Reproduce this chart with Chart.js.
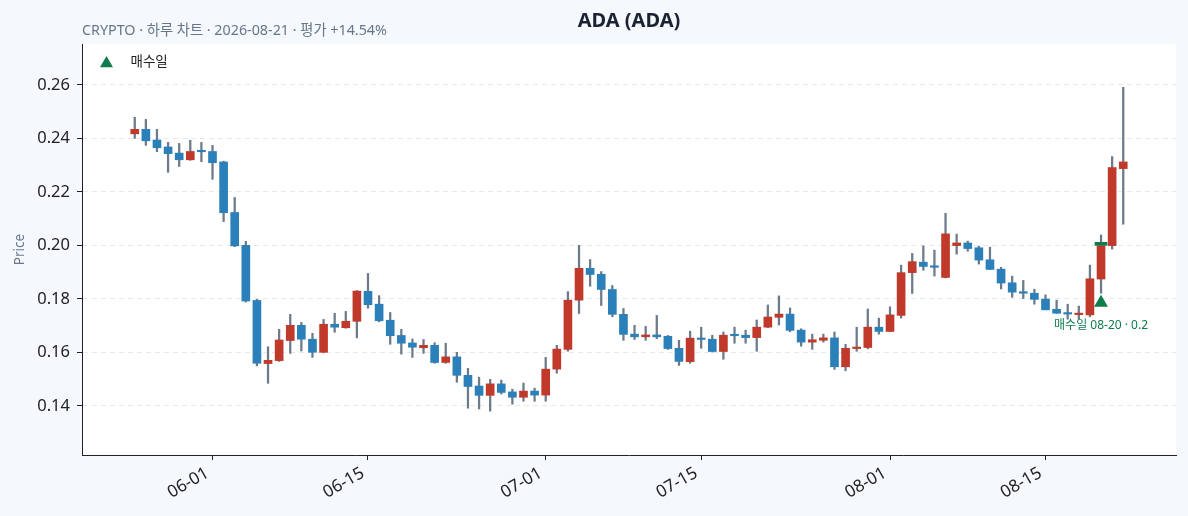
<!DOCTYPE html>
<html>
<head>
<meta charset="utf-8">
<script src="https://cdn.jsdelivr.net/npm/chart.js@4.4.1/dist/chart.umd.min.js"></script>
<style>
  html, body { margin: 0; padding: 0; background: #f5f8fc; }
  #wrap { width: 1188px; height: 516px; }
</style>
</head>
<body>
<div id="wrap"><canvas id="candleChart" width="1188" height="516"></canvas></div>
<script>
// 일봉 데이터
var dates = [
  "05-25","05-26","05-27","05-28","05-29","05-30","05-31",
  "06-01","06-02","06-03","06-04","06-05","06-06","06-07","06-08","06-09","06-10",
  "06-11","06-12","06-13","06-14","06-15","06-16","06-17","06-18","06-19","06-20",
  "06-21","06-22","06-23","06-24","06-25","06-26","06-27","06-28","06-29","06-30",
  "07-01","07-02","07-03","07-04","07-05","07-06","07-07","07-08","07-09","07-10",
  "07-11","07-12","07-13","07-14","07-15","07-16","07-17","07-18","07-19","07-20",
  "07-21","07-22","07-23","07-24","07-25","07-26","07-27","07-28","07-29","07-30","07-31",
  "08-01","08-02","08-03","08-04","08-05","08-06","08-07","08-08","08-09","08-10",
  "08-11","08-12","08-13","08-14","08-15","08-16","08-17","08-18","08-19","08-20",
  "08-21","08-22"
];
var opens = [
  0.2417,0.2434,0.2394,0.2368,0.2345,0.2320,0.2353,
  0.2351,0.2312,0.2123,0.2000,0.1794,0.1558,0.1569,0.1644,0.1701,0.1649,
  0.1600,0.1705,0.1692,0.1716,0.1828,0.1780,0.1720,0.1663,0.1635,0.1617,
  0.1626,0.1562,0.1583,0.1514,0.1474,0.1439,0.1482,0.1452,0.1432,0.1455,
  0.1440,0.1537,0.1611,0.1795,0.1914,0.1892,0.1835,0.1742,0.1668,0.1658,
  0.1665,0.1660,0.1615,0.1565,0.1653,0.1649,0.1603,0.1664,0.1664,0.1655,
  0.1694,0.1731,0.1743,0.1683,0.1638,0.1645,0.1654,0.1546,0.1614,0.1618,0.1694,
  0.1678,0.1738,0.1898,0.1937,0.1922,0.1880,0.1999,0.2009,0.1991,0.1946,
  0.1911,0.1860,0.1826,0.1821,0.1799,0.1761,0.1746,0.1741,0.1740,0.1874,
  0.1999,0.2287
];
var highs = [
  0.2479,0.2471,0.2434,0.2385,0.2381,0.2393,0.2385,
  0.2374,0.2315,0.2179,0.2015,0.1798,0.1621,0.1686,0.1742,0.1712,0.1671,
  0.1723,0.1746,0.1753,0.1831,0.1895,0.1812,0.1749,0.1686,0.1650,0.1648,
  0.1636,0.1634,0.1600,0.1540,0.1507,0.1499,0.1496,0.1462,0.1485,0.1466,
  0.1581,0.1626,0.1827,0.2000,0.1947,0.1902,0.1850,0.1764,0.1701,0.1697,
  0.1738,0.1663,0.1645,0.1679,0.1694,0.1664,0.1676,0.1694,0.1683,0.1721,
  0.1777,0.1811,0.1766,0.1688,0.1668,0.1668,0.1676,0.1630,0.1694,0.1762,0.1728,
  0.1770,0.1926,0.1970,0.1998,0.1982,0.2120,0.2042,0.2016,0.1997,0.1993,
  0.1918,0.1885,0.1869,0.1836,0.1815,0.1795,0.1780,0.1773,0.1926,0.2039,
  0.2332,0.2591
];
var lows = [
  0.2400,0.2374,0.2350,0.2273,0.2295,0.2318,0.2313,
  0.2247,0.2089,0.1995,0.1788,0.1549,0.1484,0.1566,0.1596,0.1605,0.1581,
  0.1598,0.1675,0.1690,0.1654,0.1765,0.1714,0.1630,0.1593,0.1581,0.1596,
  0.1559,0.1559,0.1488,0.1391,0.1388,0.1380,0.1444,0.1406,0.1417,0.1417,
  0.1417,0.1522,0.1604,0.1745,0.1847,0.1775,0.1733,0.1645,0.1648,0.1645,
  0.1651,0.1611,0.1551,0.1559,0.1615,0.1601,0.1574,0.1634,0.1634,0.1604,
  0.1692,0.1702,0.1677,0.1623,0.1611,0.1638,0.1536,0.1531,0.1604,0.1613,0.1668,
  0.1677,0.1728,0.1820,0.1907,0.1885,0.1878,0.1967,0.1978,0.1930,0.1909,
  0.1837,0.1806,0.1801,0.1780,0.1759,0.1746,0.1724,0.1724,0.1733,0.1821,
  0.1986,0.2079
];
var closes = [
  0.2434,0.2391,0.2365,0.2343,0.2320,0.2351,0.2350,
  0.2309,0.2122,0.1998,0.1792,0.1559,0.1570,0.1646,0.1701,0.1649,0.1600,
  0.1705,0.1694,0.1716,0.1829,0.1778,0.1718,0.1662,0.1634,0.1619,0.1626,
  0.1562,0.1583,0.1514,0.1472,0.1439,0.1482,0.1450,0.1432,0.1455,0.1440,
  0.1537,0.1612,0.1795,0.1914,0.1891,0.1835,0.1742,0.1667,0.1658,0.1665,
  0.1658,0.1614,0.1566,0.1653,0.1648,0.1603,0.1664,0.1662,0.1655,0.1694,
  0.1732,0.1743,0.1682,0.1638,0.1647,0.1654,0.1546,0.1615,0.1619,0.1694,0.1678,
  0.1740,0.1898,0.1939,0.1921,0.1918,0.2043,0.2009,0.1988,0.1945,0.1910,
  0.1859,0.1825,0.1821,0.1798,0.1759,0.1746,0.1743,0.1745,0.1875,0.1999,
  0.2291,0.2312
];

// 매수 정보
var buyDate = ["08-20"];
var buyPrice = [0.2];
var buyMarkerPrice = [0.1785];

// 축 눈금
var xTickLabels = ["06-01", "06-15", "07-01", "07-15", "08-01", "08-15"];
var yTickValues = [0.14, 0.16, 0.18, 0.20, 0.22, 0.24, 0.26];

var UP = "#c0392b";
var DOWN = "#2b80b9";
var WICK = "#6d7a8a";
var GREEN = "#0e7c4b";
var FONT = "'Noto Sans', 'Noto Sans CJK KR', sans-serif";

document.addEventListener("DOMContentLoaded", function() {
  var buyIdx = dates.indexOf(buyDate[0]);

  var wickData = dates.map(function(d, i) { return { x: i, y: [lows[i], highs[i]] }; });
  var bodyData = dates.map(function(d, i) { return { x: i, y: [opens[i], closes[i]] }; });
  var bodyColors = dates.map(function(d, i) { return closes[i] >= opens[i] ? UP : DOWN; });
  var xTicks = xTickLabels.map(function(l) { return dates.indexOf(l); });

  // 배경 + 제목/범례/주석
  var decor = {
    id: "decor",
    beforeDraw: function(chart) {
      var ctx = chart.ctx, a = chart.chartArea;
      ctx.save();
      ctx.fillStyle = "#f5f8fc";
      ctx.fillRect(0, 0, chart.width, chart.height);
      ctx.fillStyle = "#ffffff";
      ctx.fillRect(a.left, a.top, a.right - a.left, a.bottom - a.top);
      ctx.restore();
    },
    afterDraw: function(chart) {
      var ctx = chart.ctx, a = chart.chartArea;
      var xs = chart.scales.x, ys = chart.scales.y;
      ctx.save();
      ctx.textBaseline = "middle";

      ctx.fillStyle = "#1a2233";
      ctx.font = "bold 20px " + FONT;
      ctx.textAlign = "center";
      ctx.fillText("ADA (ADA)", (a.left + a.right) / 2, 21);

      ctx.fillStyle = "#66768a";
      ctx.font = "14.3px " + FONT;
      ctx.textAlign = "left";
      ctx.fillText("CRYPTO · 하루 차트 · 2026-08-21 · 평가 +14.54%", a.left, 31);

      // 범례
      var lx = a.left + 24.5, ly = a.top + 19.5, r = 7.5;
      ctx.fillStyle = GREEN;
      ctx.beginPath();
      ctx.moveTo(lx, ly - r);
      ctx.lineTo(lx + r * 0.866, ly + r / 2);
      ctx.lineTo(lx - r * 0.866, ly + r / 2);
      ctx.closePath();
      ctx.fill();
      ctx.fillStyle = "#222222";
      ctx.font = "13.5px " + FONT;
      ctx.fillText("매수일", a.left + 48.5, a.top + 18);

      // 매수 주석
      ctx.fillStyle = GREEN;
      ctx.font = "12px " + FONT;
      ctx.textAlign = "center";
      ctx.fillText("매수일 " + buyDate[0] + " · " + buyPrice[0],
        xs.getPixelForValue(buyIdx), ys.getPixelForValue(buyMarkerPrice[0]) + 23);
      ctx.restore();
    }
  };

  var ctx = document.getElementById("candleChart").getContext("2d");
  new Chart(ctx, {
    type: "bar",
    data: {
      datasets: [
        {
          label: "wick",
          data: wickData,
          backgroundColor: WICK,
          barThickness: 1.6,
          grouped: false,
          order: 3
        },
        {
          label: "body",
          data: bodyData,
          backgroundColor: bodyColors,
          barThickness: 8,
          minBarLength: 1.5,
          grouped: false,
          order: 2
        },
        {
          label: "매수가",
          data: [{ x: buyIdx, y: [buyPrice[0], buyPrice[0]] }],
          backgroundColor: GREEN,
          barThickness: 12,
          minBarLength: 3,
          grouped: false,
          order: 1
        },
        {
          type: "scatter",
          label: "매수일",
          data: [{ x: buyIdx, y: buyMarkerPrice[0] }],
          pointStyle: "triangle",
          radius: 8,
          backgroundColor: GREEN,
          borderWidth: 0,
          order: 0
        }
      ]
    },
    options: {
      responsive: false,
      animation: false,
      layout: { padding: { top: 44, right: 12, left: 0, bottom: 0 } },
      plugins: {
        legend: { display: false },
        tooltip: { enabled: false },
        title: { display: false }
      },
      scales: {
        x: {
          type: "linear",
          min: -4.75,
          max: 93.75,
          offset: false,
          grid: { display: true, offset: false, drawOnChartArea: false, drawTicks: true, tickLength: 5, tickColor: "#222222" },
          border: { display: true, color: "#222222", width: 1 },
          afterBuildTicks: function(scale) {
            scale.ticks = xTicks.map(function(v) { return { value: v }; });
          },
          afterFit: function(scale) { scale.height = 61; },
          ticks: {
            autoSkip: false,
            minRotation: 30,
            maxRotation: 30,
            color: "#222222",
            padding: 3,
            labelOffset: -5,
            font: { family: FONT, size: 17 },
            callback: function(v) { return dates[Math.round(v)]; }
          }
        },
        y: {
          type: "linear",
          min: 0.1216,
          max: 0.2753,
          grid: { color: "#e8e8e8", lineWidth: 1, drawTicks: true, tickLength: 5, tickColor: "#222222" },
          border: { display: true, color: "#222222", width: 1, dash: [5, 4] },
          afterBuildTicks: function(scale) {
            scale.ticks = yTickValues.map(function(v) { return { value: v }; });
          },
          afterFit: function(scale) { scale.width = 82; },
          ticks: {
            color: "#222222",
            padding: 7,
            font: { family: FONT, size: 16.5 },
            callback: function(v) { return v.toFixed(2); }
          },
          title: {
            display: true,
            text: "Price",
            color: "#6b7b8f",
            font: { family: FONT, size: 13.5 },
            padding: { top: 12, bottom: 0 }
          }
        }
      }
    },
    plugins: [decor]
  });
});
</script>
</body>
</html>
